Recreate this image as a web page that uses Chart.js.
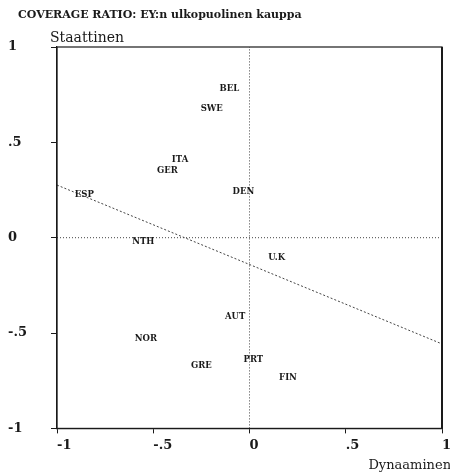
<!DOCTYPE html>
<html>
<head>
<meta charset="utf-8">
<script src="https://cdn.jsdelivr.net/npm/chart.js@4/dist/chart.umd.min.js"></script>
<style>
  body { margin: 0; background: #fff; }
  #wrap { width: 450px; height: 472px; }
</style>
</head>
<body>
<div id="wrap"><canvas id="Kuvio"></canvas></div>
<script>
const countries = ['BEL', 'SWE', 'ITA', 'GER', 'ESP', 'DEN', 'NTH', 'U.K', 'AUT', 'NOR', 'GRE', 'PRT', 'FIN'];
const dynaaminen = [-0.105, -0.196, -0.361, -0.427, -0.858, -0.032, -0.552, 0.141, -0.075, -0.538, -0.25, 0.02, 0.2];
const staattinen = [0.782, 0.677, 0.41, 0.349, 0.227, 0.239, -0.023, -0.103, -0.414, -0.532, -0.673, -0.64, -0.733];
const trendX = [-1, 1];
const trendY = [0.276, -0.557];
const tickValues = [-1, -0.5, 0, 0.5, 1];
const tickLabels = ['-1', '-.5', '0', '.5', '1'];

const serif = '"DejaVu Serif", "Liberation Serif", serif';
const ink = '#1a1a1a';

function tickText(v) {
    const i = tickValues.findIndex(t => Math.abs(t - v) < 1e-6);
    return i >= 0 ? tickLabels[i] : '';
}

// country names written at the point positions
const nimet = {
    id: 'nimet',
    afterDatasetsDraw(chart) {
        const ctx = chart.ctx;
        const meta = chart.getDatasetMeta(0);
        ctx.save();
        ctx.font = 'bold 8.5px ' + serif;
        ctx.fillStyle = ink;
        ctx.textAlign = 'center';
        ctx.textBaseline = 'middle';
        meta.data.forEach((pt, i) => {
            ctx.fillText(countries[i], pt.x, pt.y);
        });
        ctx.restore();
    }
};

// frame round the plot + headings
const kehys = {
    id: 'kehys',
    afterDraw(chart) {
        const ctx = chart.ctx;
        const a = chart.chartArea;
        ctx.save();
        ctx.strokeStyle = ink;
        ctx.lineWidth = 1.2;
        ctx.strokeRect(a.left, a.top, a.right - a.left, a.bottom - a.top);
        ctx.lineWidth = 2;
        ctx.beginPath();
        ctx.moveTo(a.right, a.top);
        ctx.lineTo(a.right, a.bottom);
        ctx.stroke();
        ctx.fillStyle = ink;
        ctx.textBaseline = 'alphabetic';
        ctx.font = 'bold 11px ' + serif;
        ctx.fillText('COVERAGE RATIO: EY:n ulkopuolinen kauppa', 18, 18);
        ctx.font = '14px ' + serif;
        ctx.fillText('Staattinen', 50, 42);
        ctx.font = '13px ' + serif;
        ctx.textAlign = 'right';
        ctx.fillText('Dynaaminen', 451, 469);
        ctx.restore();
    }
};

const ctx = document.getElementById('Kuvio');
const kuvio = new Chart(ctx, {
    type: 'scatter',
    data: {
        datasets: [{
            label: 'maat',
            data: countries.map((c, i) => ({ x: dynaaminen[i], y: staattinen[i] })),
            pointRadius: 0,
            pointHoverRadius: 0
        }, {
            label: 'trendi',
            type: 'line',
            data: trendX.map((x, i) => ({ x: x, y: trendY[i] })),
            borderColor: '#444',
            borderWidth: 1,
            borderDash: [2, 2],
            pointRadius: 0,
            fill: false
        }, {
            label: 'x0',
            type: 'line',
            data: [{ x: -1, y: 0 }, { x: 1, y: 0 }],
            borderColor: '#444',
            borderWidth: 1,
            borderDash: [1, 2],
            pointRadius: 0
        }, {
            label: 'y0',
            type: 'line',
            data: [{ x: 0, y: -1 }, { x: 0, y: 1 }],
            borderColor: '#444',
            borderWidth: 1,
            borderDash: [1, 2],
            pointRadius: 0
        }]
    },
    options: {
        responsive: true,
        maintainAspectRatio: false,
        animation: false,
        layout: { padding: { top: 47, left: 8, right: 8, bottom: 15 } },
        plugins: {
            legend: { display: false },
            tooltip: { enabled: false }
        },
        scales: {
            x: {
                type: 'linear',
                min: -1,
                max: 1,
                afterBuildTicks: s => { s.ticks = tickValues.map(v => ({ value: v })); },
                afterFit: s => { s.paddingRight = 0; },
                ticks: {
                    callback: tickText,
                    color: ink,
                    font: { family: serif, size: 13, weight: 'bold' },
                    align: 'start',
                    padding: 4,
                    maxRotation: 0
                },
                grid: { drawOnChartArea: false, tickLength: 5, color: ink },
                border: { color: ink, width: 1.2 }
            },
            y: {
                type: 'linear',
                min: -1,
                max: 1,
                afterBuildTicks: s => { s.ticks = tickValues.map(v => ({ value: v })); },
                afterFit: s => { s.width = 49; },
                ticks: {
                    callback: tickText,
                    color: ink,
                    font: { family: serif, size: 13, weight: 'bold' },
                    crossAlign: 'far',
                    padding: 4
                },
                grid: { drawOnChartArea: false, tickLength: 6, color: ink },
                border: { color: ink, width: 1.2 }
            }
        }
    },
    plugins: [nimet, kehys]
});
</script>
</body>
</html>
